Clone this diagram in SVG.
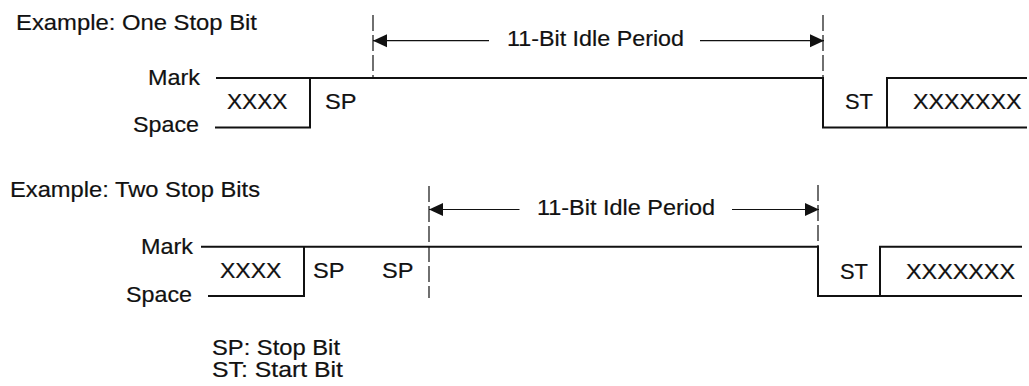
<svg xmlns="http://www.w3.org/2000/svg" width="1029" height="386" viewBox="0 0 1029 386">
<defs>
<style>
text{font-family:"Liberation Sans",Arial,sans-serif;font-size:22px;fill:#111;stroke:#111;stroke-width:0.2px;}
.sig{stroke:#111;stroke-width:2;fill:none;stroke-linecap:square;}
.dash{stroke:#111;stroke-width:1.2;fill:none;stroke-dasharray:16 4;}
.dim{stroke:#111;stroke-width:1.2;fill:none;}
</style>
<marker id="ah" viewBox="0 -7 14 14" refX="14" refY="0" markerWidth="14" markerHeight="14" markerUnits="userSpaceOnUse" orient="auto-start-reverse">
<path d="M0,-6.5 L14,0 L0,6.5 Z" fill="#111"/>
</marker>
</defs>
<rect width="1029" height="386" fill="#fff"/>

<g id="titles">
<text x="16" y="29.5" textLength="241" lengthAdjust="spacingAndGlyphs">Example: One Stop Bit</text>
<text x="10" y="197" textLength="250" lengthAdjust="spacingAndGlyphs">Example: Two Stop Bits</text>
</g>

<g id="legend">
<text x="212" y="355" textLength="128" lengthAdjust="spacingAndGlyphs">SP: Stop Bit</text>
<text x="212" y="377" textLength="131" lengthAdjust="spacingAndGlyphs">ST: Start Bit</text>
</g>

<g id="one-stop-bit">
<text x="148" y="85" textLength="52" lengthAdjust="spacingAndGlyphs">Mark</text>
<text x="133" y="132" textLength="66" lengthAdjust="spacingAndGlyphs">Space</text>
<text x="227" y="109" textLength="60.5" lengthAdjust="spacingAndGlyphs">XXXX</text>
<text x="325" y="109" textLength="31.5" lengthAdjust="spacingAndGlyphs">SP</text>
<text x="845" y="109" textLength="28" lengthAdjust="spacingAndGlyphs">ST</text>
<text x="913" y="109" textLength="108.5" lengthAdjust="spacingAndGlyphs">XXXXXXX</text>
<text x="507" y="45.5" textLength="177" lengthAdjust="spacingAndGlyphs">11-Bit Idle Period</text>
</g>

<g id="two-stop-bits">
<text x="141" y="254" textLength="52" lengthAdjust="spacingAndGlyphs">Mark</text>
<text x="126" y="301.5" textLength="66" lengthAdjust="spacingAndGlyphs">Space</text>
<text x="220" y="277.5" textLength="61.5" lengthAdjust="spacingAndGlyphs">XXXX</text>
<text x="313" y="277.5" textLength="31.5" lengthAdjust="spacingAndGlyphs">SP</text>
<text x="382" y="277.5" textLength="31.5" lengthAdjust="spacingAndGlyphs">SP</text>
<text x="840" y="279" textLength="28" lengthAdjust="spacingAndGlyphs">ST</text>
<text x="906" y="279" textLength="109" lengthAdjust="spacingAndGlyphs">XXXXXXX</text>
<text x="537" y="214.5" textLength="178" lengthAdjust="spacingAndGlyphs">11-Bit Idle Period</text>
</g>

<g id="connectors">
<!-- top waveform -->
<path class="sig" d="M217,78 H823 M216,127.5 H310 V78 M823,78 V127.5 H1026 M887,127.5 V78 H1026"/>
<line class="dash" x1="373" y1="15" x2="373" y2="78"/>
<line class="dash" x1="823" y1="15" x2="823" y2="78"/>
<line class="dim" x1="373" y1="40.7" x2="489" y2="40.7" marker-start="url(#ah)"/>
<line class="dim" x1="700" y1="40.7" x2="824" y2="40.7" marker-end="url(#ah)"/>
<!-- bottom waveform -->
<path class="sig" d="M202,246.7 H818 M209,296 H304 V246.7 M818,246.7 V296 H1021 M880,296 V246.7 H1021"/>
<line class="dash" x1="429" y1="186" x2="429" y2="298"/>
<line class="dash" x1="818" y1="185" x2="818" y2="246"/>
<line class="dim" x1="429" y1="209.5" x2="519.5" y2="209.5" marker-start="url(#ah)"/>
<line class="dim" x1="732" y1="209.5" x2="819" y2="209.5" marker-end="url(#ah)"/>
</g>
</svg>
